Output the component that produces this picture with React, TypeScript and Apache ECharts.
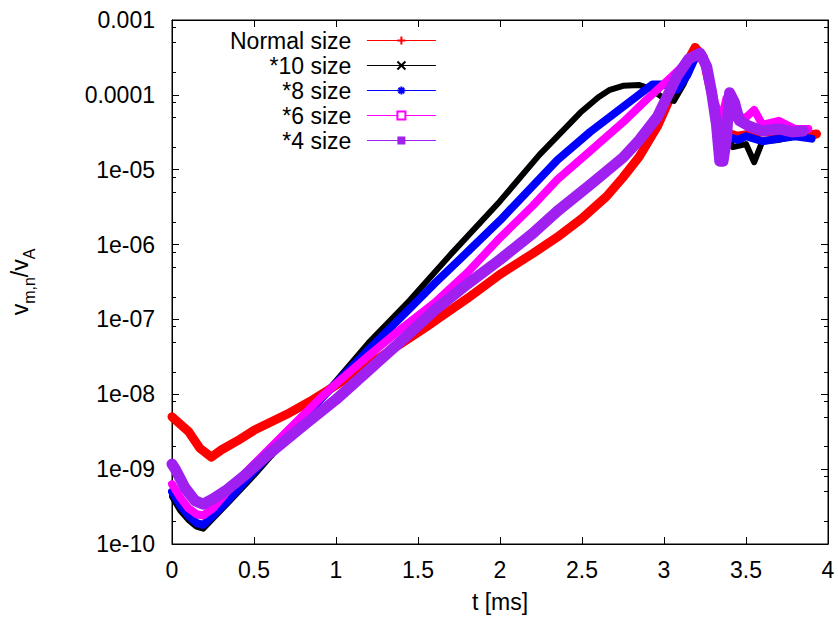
import React, { useEffect, useRef } from "react";
import * as echarts from "echarts";

const seriesNames = ["Normal size", "*10 size", "*8 size", "*6 size", "*4 size"];
const seriesColors = ["#ff0000", "#000000", "#0000ff", "#ff00ff", "#a020f0"];
const seriesWidths = [9, 6, 8, 8, 11];

const tNormal = [0, 0.05, 0.1, 0.17, 0.24, 0.3, 0.4, 0.5, 0.7, 0.86, 1.0, 1.2, 1.4, 1.55, 1.63, 1.8, 2.0, 2.2, 2.35, 2.5, 2.65, 2.75, 2.85, 2.96, 3.06, 3.13, 3.19, 3.24, 3.3, 3.36, 3.45, 3.6, 3.75, 3.85, 3.93];
const vNormal = [5.0e-9, 4.0e-9, 3.2e-9, 1.9e-9, 1.45e-9, 1.8e-9, 2.4e-9, 3.3e-9, 5.4e-9, 8.5e-9, 1.32e-8, 2.5e-8, 4.8e-8, 7.9e-8, 1.05e-7, 1.9e-7, 4.0e-7, 7.6e-7, 1.26e-6, 2.24e-6, 4.4e-6, 7.9e-6, 1.5e-5, 3.8e-5, 1.17e-4, 2.5e-4, 4.3e-4, 3.2e-4, 7.9e-5, 3.2e-5, 2.8e-5, 3.2e-5, 3.2e-5, 2.8e-5, 3.0e-5];

const tSize10 = [0, 0.05, 0.1, 0.15, 0.19, 0.25, 0.35, 0.5, 0.7, 0.9, 1.0, 1.2, 1.45, 1.7, 2.0, 2.24, 2.49, 2.6, 2.67, 2.75, 2.85, 2.92, 3.0, 3.06, 3.12, 3.2, 3.25, 3.32, 3.42, 3.5, 3.55, 3.6, 3.7, 3.8];
const vSize10 = [4.3e-10, 2.8e-10, 2.1e-10, 1.7e-10, 1.6e-10, 2.2e-10, 3.7e-10, 8.3e-10, 2.6e-9, 8.5e-9, 1.5e-8, 4.9e-8, 1.8e-7, 7.4e-7, 3.8e-6, 1.58e-5, 5.8e-5, 9.3e-5, 1.17e-4, 1.32e-4, 1.35e-4, 1.2e-4, 8.9e-5, 8.3e-5, 1.4e-4, 3.5e-4, 2.8e-4, 5.8e-5, 2.0e-5, 2.2e-5, 1.26e-5, 2.4e-5, 2.5e-5, 2.8e-5];

const tSize8 = [0, 0.05, 0.1, 0.15, 0.19, 0.25, 0.35, 0.5, 0.7, 0.9, 1.0, 1.2, 1.45, 1.6, 1.8, 2.0, 2.35, 2.55, 2.75, 2.93, 3.0, 3.08, 3.14, 3.2, 3.25, 3.32, 3.38, 3.45, 3.5, 3.6, 3.7, 3.8, 3.9];
const vSize8 = [5.0e-10, 3.3e-10, 2.4e-10, 1.9e-10, 1.8e-10, 2.4e-10, 4.0e-10, 9.3e-10, 2.8e-9, 8.3e-9, 1.4e-8, 4.0e-8, 1.4e-7, 3.0e-7, 7.9e-7, 2.1e-6, 1.35e-5, 3.2e-5, 6.9e-5, 1.38e-4, 1.38e-4, 1.17e-4, 1.8e-4, 3.5e-4, 2.8e-4, 5.0e-5, 2.8e-5, 2.5e-5, 2.8e-5, 2.4e-5, 2.6e-5, 2.8e-5, 2.6e-5];

const tSize6 = [0, 0.05, 0.1, 0.15, 0.19, 0.25, 0.35, 0.5, 0.7, 0.9, 1.0, 1.2, 1.4, 1.6, 1.8, 2.0, 2.2, 2.35, 2.55, 2.75, 2.9, 3.04, 3.12, 3.2, 3.26, 3.31, 3.35, 3.38, 3.42, 3.5, 3.55, 3.6, 3.7, 3.8, 3.88];
const vSize6 = [6.3e-10, 4.2e-10, 3.0e-10, 2.5e-10, 2.4e-10, 3.0e-10, 5.4e-10, 1.17e-9, 3.2e-9, 8.7e-9, 1.38e-8, 3.3e-8, 7.6e-8, 1.66e-7, 4.2e-7, 1.23e-6, 3.3e-6, 7.4e-6, 1.78e-5, 4.3e-5, 8.9e-5, 1.7e-4, 2.5e-4, 3.5e-4, 2.5e-4, 7.9e-5, 4.5e-5, 8.9e-5, 5.0e-5, 5.0e-5, 6.3e-5, 4.0e-5, 4.5e-5, 3.5e-5, 3.5e-5];

const tSize4 = [0, 0.02, 0.08, 0.14, 0.19, 0.25, 0.33, 0.45, 0.6, 0.8, 1.0, 1.2, 1.4, 1.6, 1.8, 2.0, 2.2, 2.35, 2.55, 2.75, 2.85, 2.96, 3.02, 3.08, 3.15, 3.22, 3.26, 3.29, 3.32, 3.34, 3.36, 3.38, 3.4, 3.43, 3.46, 3.52, 3.6, 3.7, 3.78, 3.85];
const vSize4 = [1.17e-9, 1.0e-9, 5.6e-10, 3.8e-10, 3.4e-10, 4.0e-10, 5.2e-10, 8.5e-10, 1.66e-9, 3.8e-9, 8.5e-9, 2.1e-8, 5.2e-8, 1.32e-7, 2.95e-7, 6.3e-7, 1.41e-6, 2.8e-6, 6.3e-6, 1.45e-5, 2.5e-5, 5.1e-5, 9.5e-5, 1.78e-4, 3.0e-4, 3.6e-4, 2.4e-4, 1.1e-4, 4.0e-5, 1.3e-5, 1.3e-5, 2.5e-5, 1.07e-4, 7.9e-5, 4.5e-5, 3.8e-5, 3.3e-5, 3.5e-5, 3.2e-5, 3.3e-5];

const seriesT = [tNormal, tSize10, tSize8, tSize6, tSize4];
const seriesV = [vNormal, vSize10, vSize8, vSize6, vSize4];

const yTickLabels = ["1e-10", "1e-09", "1e-08", "1e-07", "1e-06", "1e-05", "0.0001", "0.001"];
const yMinExp = -10;
const yMaxExp = -3;
const yMinorMantissas = [2, 5, 8];

const FONT = "'Liberation Sans', Arial, Helvetica, sans-serif";

const symbols = [
  "path://M5,0L5,10M0,5L10,5",
  "path://M0,0L10,10M10,0L0,10",
  "path://M5,0L5,10M0,5L10,5M1.5,1.5L8.5,8.5M8.5,1.5L1.5,8.5",
  "emptyRect",
  "rect",
];

export default function App() {
  const ref = useRef<HTMLDivElement>(null);
  useEffect(() => {
    if (!ref.current) return;
    const chart = echarts.init(ref.current, undefined, { renderer: "svg" });

    const minorPos: number[] = [];
    for (let k = yMinExp; k < yMaxExp; k++) {
      for (const m of yMinorMantissas) minorPos.push(k + Math.log10(m));
    }

    const axisCommon = {
      axisLine: { show: true, lineStyle: { color: "#000", width: 1 } },
      splitLine: { show: false },
    };

    const series = seriesNames.map((name, i) => ({
      name,
      type: "line",
      xAxisIndex: 0,
      yAxisIndex: 0,
      data: seriesT[i].map((t, j) => [t, seriesV[i][j]]),
      showSymbol: false,
      symbol: symbols[i],
      symbolSize: 8,
      clip: false,
      lineStyle: { color: seriesColors[i], width: seriesWidths[i], join: "round", cap: "round" },
      itemStyle: {
        color: seriesColors[i],
        borderColor: seriesColors[i],
        borderWidth: i === 4 ? 0 : 1.2,
      },
      emphasis: { disabled: true },
      z: 2 + i,
    }));

    chart.setOption({
      animation: false,
      backgroundColor: "#ffffff",
      textStyle: { fontFamily: FONT },
      grid: {
        left: 172,
        right: 10,
        top: 20,
        bottom: 77,
        show: true,
        borderColor: "#000",
        borderWidth: 1,
        backgroundColor: "transparent",
      },
      legend: {
        orient: "vertical",
        align: "right",
        right: 402,
        top: 29,
        padding: 0,
        itemGap: 2,
        itemWidth: 68,
        itemHeight: 10,
        selectedMode: false,
        textStyle: { fontSize: 23, color: "#000", fontFamily: FONT, padding: [0, 11, 0, 0] },
        lineStyle: { width: 1.2 },
        data: seriesNames,
      },
      xAxis: [
        {
          type: "value",
          min: 0,
          max: 4,
          interval: 0.5,
          position: "bottom",
          ...axisCommon,
          axisTick: { show: true, inside: true, length: 7, lineStyle: { color: "#000" } },
          axisLabel: { color: "#000", fontSize: 23, margin: 14, fontFamily: FONT },
          name: "t [ms]",
          nameLocation: "middle",
          nameGap: 46,
          nameTextStyle: { color: "#000", fontSize: 23, fontFamily: FONT },
        },
        {
          type: "value",
          min: 0,
          max: 4,
          interval: 0.5,
          position: "top",
          ...axisCommon,
          axisTick: { show: true, inside: true, length: 7, lineStyle: { color: "#000" } },
          axisLabel: { show: false },
        },
      ],
      yAxis: [
        {
          type: "log",
          logBase: 10,
          min: Math.pow(10, yMinExp),
          max: Math.pow(10, yMaxExp),
          position: "left",
          ...axisCommon,
          axisTick: { show: true, inside: true, length: 7, lineStyle: { color: "#000" } },
          axisLabel: {
            color: "#000",
            fontSize: 23,
            margin: 17,
            fontFamily: FONT,
            formatter: (v: number) => {
              const idx = Math.round(Math.log10(v)) - yMinExp;
              return yTickLabels[idx] ?? "";
            },
          },
          name: "{a|v}{b|m,n}{a|/v}{b|A}",
          nameLocation: "middle",
          nameRotate: 90,
          nameGap: 135,
          nameTextStyle: {
            color: "#000",
            rich: {
              a: { fontSize: 23, lineHeight: 34, verticalAlign: "middle", color: "#000", fontFamily: FONT },
              b: { fontSize: 16, lineHeight: 16, verticalAlign: "bottom", color: "#000", fontFamily: FONT },
            },
          },
        },
        {
          type: "value",
          min: yMinExp,
          max: yMaxExp,
          position: "left",
          axisLine: { show: false },
          splitLine: { show: false },
          axisTick: { show: true, inside: true, length: 4, customValues: minorPos, lineStyle: { color: "#000" } },
          axisLabel: { show: false },
        },
        {
          type: "log",
          logBase: 10,
          min: Math.pow(10, yMinExp),
          max: Math.pow(10, yMaxExp),
          position: "right",
          ...axisCommon,
          axisTick: { show: true, inside: true, length: 7, lineStyle: { color: "#000" } },
          axisLabel: { show: false },
        },
        {
          type: "value",
          min: yMinExp,
          max: yMaxExp,
          position: "right",
          axisLine: { show: false },
          splitLine: { show: false },
          axisTick: { show: true, inside: true, length: 4, customValues: minorPos, lineStyle: { color: "#000" } },
          axisLabel: { show: false },
        },
      ],
      series,
    });
    return () => chart.dispose();
  }, []);
  return (
    <div
      ref={ref}
      style={{ position: "fixed", left: 0, top: 0, width: 838, height: 621, background: "#fff" }}
    />
  );
}
